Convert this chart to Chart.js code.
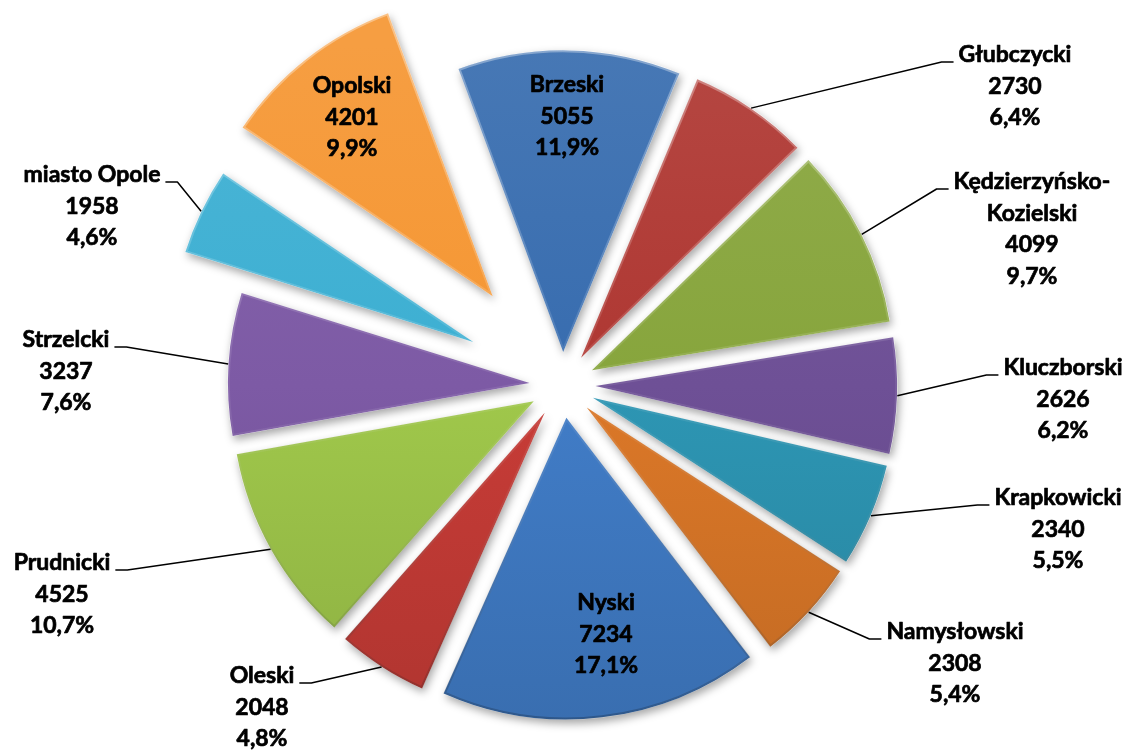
<!DOCTYPE html>
<html>
<head>
<meta charset="utf-8">
<title>Powiaty - województwo opolskie</title>
<script src="https://cdn.jsdelivr.net/npm/chart.js"></script>
<style>
    body {
        margin: 0;
        background: #ffffff;
    }
    #chart {
        display: block;
    }
</style>
</head>
<body>
<canvas id="chart" width="1129" height="751"></canvas>
<script>
    // values
    var districts = ['Brzeski', 'Głubczycki', 'Kędzierzyńsko-Kozielski', 'Kluczborski', 'Krapkowicki',
        'Namysłowski', 'Nyski', 'Oleski', 'Prudnicki', 'Strzelcki', 'miasto Opole', 'Opolski'];
    var counts = [5055, 2730, 4099, 2626, 2340, 2308, 7234, 2048, 4525, 3237, 1958, 4201];

    // slice colours (Excel palette, two rounds)
    var sliceColors = ['#376CAF', '#AF3732', '#87A53C', '#6E5096', '#2D96B4', '#DC7828',
        '#417DC8', '#C83C37', '#A0C84B', '#7D5AA5', '#3CAFD2', '#F59632'];
    // how far each slice is pulled out, px
    var explode = [33, 33, 33, 33, 33, 33, 33, 33, 33, 33, 99, 113];
    // label placement: side + [centre x, baseline of first line]
    var labelSide = ['in', 'right', 'right', 'right', 'right', 'right', 'in', 'left', 'left', 'left', 'left', 'in'];
    var labelAt = [[567, 92], [1015, 62], [1032, 189], [1063, 375], [1058, 505], [955, 639],
        [606, 610], [262, 683], [62, 570], [66, 347], [92, 182], [352, 93]];
    var LINE = 31.5;

    function shade(hex, f) {
        var n = parseInt(hex.slice(1), 16);
        var c = [n >> 16, (n >> 8) & 255, n & 255].map(function (v) {
            return Math.round(f > 0 ? v + (255 - v) * f : v * (1 + f));
        });
        return 'rgb(' + c.join(',') + ')';
    }

    function sliceFill(context) {
        var base = sliceColors[context.dataIndex];
        var area = context.chart.chartArea;
        if (!base) return '#888888';
        if (!area) return base;
        var cy = (area.top + area.bottom) / 2;
        var g = context.chart.ctx.createLinearGradient(0, cy - 340, 0, cy + 340);
        g.addColorStop(0, shade(base, 0.08));
        g.addColorStop(0.5, base);
        g.addColorStop(1, shade(base, -0.12));
        return g;
    }

    function sliceEdge(context) {
        var area = context.chart.chartArea;
        if (!area) return 'rgba(0,0,0,0.2)';
        var cy = (area.top + area.bottom) / 2;
        var g = context.chart.ctx.createLinearGradient(0, cy - 340, 0, cy + 340);
        g.addColorStop(0, 'rgba(255,255,255,0.35)');
        g.addColorStop(0.5, 'rgba(255,255,255,0.08)');
        g.addColorStop(1, 'rgba(0,0,0,0.22)');
        return g;
    }

    function drawLabels(chart) {
        var ctx = chart.ctx;
        var arcs = chart.getDatasetMeta(0).data;
        var total = counts.reduce(function (a, b) { return a + b; }, 0);
        ctx.save();
        ctx.font = 'bold 23px Lato';
        ctx.fillStyle = '#000000';
        ctx.strokeStyle = '#000000';
        ctx.textAlign = 'center';
        ctx.textBaseline = 'alphabetic';
        ctx.lineJoin = 'round';
        counts.forEach(function (v, i) {
            var name = districts[i];
            var cut = name.indexOf('-');
            var lines = cut > 0 ? [name.slice(0, cut + 1), name.slice(cut + 1)] : [name];
            lines.push(String(v), (v / total * 100).toFixed(1).replace('.', ',') + '%');
            var x = labelAt[i][0], y = labelAt[i][1];
            ctx.lineWidth = 0.7;
            lines.forEach(function (t, k) {
                ctx.fillText(t, x, y + k * LINE);
                ctx.strokeText(t, x, y + k * LINE);
            });
            if (labelSide[i] === 'in') return;
            // leader line from the middle of the slice rim to the label
            var arc = arcs[i];
            var mid = (arc.startAngle + arc.endAngle) / 2;
            var ax = arc.x + Math.cos(mid) * arc.outerRadius;
            var ay = arc.y + Math.sin(mid) * arc.outerRadius;
            var half = ctx.measureText(lines[0]).width / 2;
            var dir = labelSide[i] === 'right' ? -1 : 1;
            ctx.lineWidth = 1.5;
            ctx.beginPath();
            ctx.moveTo(ax, ay);
            ctx.lineTo(x + dir * (half + 17), y);
            ctx.lineTo(x + dir * (half + 5), y);
            ctx.stroke();
        });
        ctx.restore();
    }

    var explodePlugin = {
        id: 'explode',
        afterDatasetUpdate: function (chart, args) {
            chart.getDatasetMeta(args.index).data.forEach(function (arc, i) {
                var mid = (arc.startAngle + arc.endAngle) / 2;
                arc.x += Math.cos(mid) * explode[i];
                arc.y += Math.sin(mid) * explode[i];
            });
        },
        beforeDatasetsDraw: function (chart) {
            // soft drop shadow under every slice
            var ctx = chart.ctx;
            chart.getDatasetMeta(0).data.forEach(function (arc) {
                ctx.save();
                ctx.shadowColor = 'rgba(0,0,0,0.35)';
                ctx.shadowBlur = 8;
                ctx.shadowOffsetX = 2;
                ctx.shadowOffsetY = 4;
                ctx.fillStyle = '#ffffff';
                ctx.beginPath();
                ctx.moveTo(arc.x, arc.y);
                ctx.arc(arc.x, arc.y, arc.outerRadius, arc.startAngle, arc.endAngle);
                ctx.closePath();
                ctx.fill();
                ctx.restore();
            });
        },
        afterDatasetsDraw: function (chart) {
            drawLabels(chart);
        }
    };

    var chart = new Chart(document.getElementById('chart'), {
        type: 'pie',
        data: {
            labels: districts,
            datasets: [{
                data: counts,
                backgroundColor: sliceFill,
                borderColor: sliceEdge,
                borderWidth: 2,
                borderAlign: 'inner',
                clip: false
            }]
        },
        options: {
            responsive: false,
            animation: false,
            events: [],
            rotation: -20.3,
            radius: 302,
            layout: {
                padding: { top: 19, right: 4, bottom: 0, left: 0 }
            },
            plugins: {
                legend: { display: false },
                tooltip: { enabled: false }
            }
        },
        plugins: [explodePlugin]
    });
</script>
</body>
</html>
